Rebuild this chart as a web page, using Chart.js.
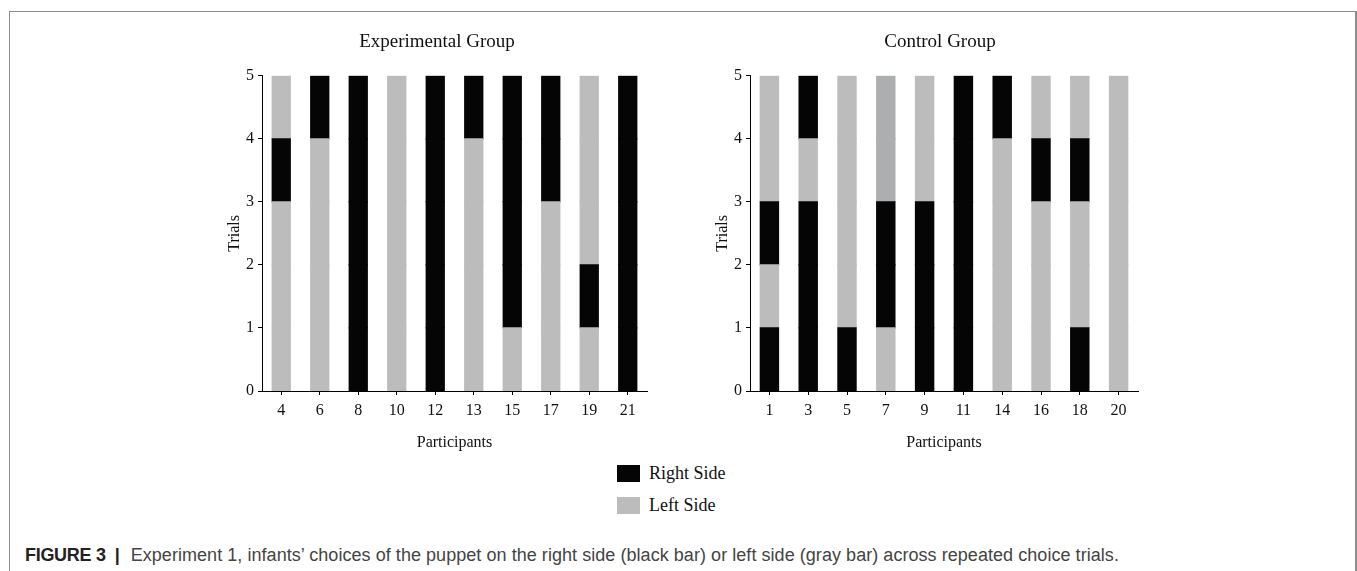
<!DOCTYPE html>
<html>
<head>
<meta charset="utf-8">
<script src="https://cdn.jsdelivr.net/npm/chart.js@4.4.0/dist/chart.umd.min.js"></script>
<style>
  html, body { margin: 0; padding: 0; background: #fff; width: 1357px; height: 571px; overflow: hidden; }
  .frame { position: absolute; left: 9px; top: 11px; width: 1345px; height: 600px; border: 1px solid #8c8c8c; border-right-width: 2px; }
  .panel { position: absolute; top: 11px; height: 450px; }
  #panel-exp { left: 200px; width: 474px; }
  #panel-ctl { left: 688px; width: 504px; }
  .legend { position: absolute; left: 617px; font-family: 'Liberation Serif', serif; font-size: 18px; color: #111; }
  .legend div { position: relative; height: 17px; margin-bottom: 15px; }
  .legend span.box { position: absolute; left: 0; top: 0; width: 23px; height: 17px; }
  .legend span.lbl { position: absolute; left: 32px; top: -2px; white-space: nowrap; line-height: 20px; }
  .caption { position: absolute; left: 25px; top: 544px; font-family: 'Liberation Sans', Arial, sans-serif; font-size: 18px; color: #444; white-space: nowrap; line-height: 22px; }
  .caption b { color: #222; letter-spacing: -0.3px; }
  .caption .sep { color: #222; font-weight: bold; margin: 0 11px 0 9px; }
  .caption .txt { letter-spacing: 0.05px; }
</style>
</head>
<body>
<div class="frame"></div>
<div class="panel" id="panel-exp"><canvas id="canvas-exp"></canvas></div>
<div class="panel" id="panel-ctl"><canvas id="canvas-ctl"></canvas></div>
<div class="legend" style="top:465px">
  <div><span class="box" style="background:#050505"></span><span class="lbl">Right Side</span></div>
  <div><span class="box" style="background:#bbbcbb"></span><span class="lbl">Left Side</span></div>
</div>
<div class="caption"><b>FIGURE 3</b><span class="sep">|</span><span class="txt">Experiment 1, infants’ choices of the puppet on the right side (black bar) or left side (gray bar) across repeated choice trials.</span></div>
<script>
// participants of each group
const expParticipants = ['4', '6', '8', '10', '12', '13', '15', '17', '19', '21'];
const ctlParticipants = ['1', '3', '5', '7', '9', '11', '14', '16', '18', '20'];

// choice per trial, trial 1 at the bottom: R = right side, L = left side, G = left side (darker gray in figure)
const expChoices = ['LLLRL', 'LLLLR', 'RRRRR', 'LLLLL', 'RRRRR', 'LLLLR', 'LRRRR', 'LLLRR', 'LRLLL', 'RRRRR'];
const ctlChoices = ['RLRLL', 'RRRLR', 'RLLLL', 'LRRGG', 'RRRLL', 'RRRRR', 'LLLLR', 'LLLRL', 'RLLRL', 'LLLLL'];

const trialLabels = ['Trial 1', 'Trial 2', 'Trial 3', 'Trial 4', 'Trial 5'];
const yTicks = [0, 1, 2, 3, 4, 5];

const colors = { R: '#050505', L: '#bbbcbb', G: '#adaeb0' };

Chart.defaults.font.family = "'Liberation Serif', 'Times New Roman', serif";
Chart.defaults.color = '#111';

const makeDatasets = (choices) => trialLabels.map((label, t) => ({
  label: label,
  data: choices.map(() => 1),
  backgroundColor: choices.map(c => colors[c[t]]),
  borderWidth: 0,
  inflateAmount: 0.6,
  categoryPercentage: 1,
  barPercentage: 0.47
}));

// spacer on the right keeps the title centred where the figure has it
const makeChart = (id, title, labels, choices, rightSpace) => new Chart(document.getElementById(id), {
  type: 'bar',
  data: { labels: labels, datasets: makeDatasets(choices) },
  options: {
    responsive: true,
    maintainAspectRatio: false,
    animation: false,
    layout: { padding: 0 },
    plugins: {
      legend: { display: false },
      tooltip: { enabled: false },
      title: {
        display: true,
        text: title,
        color: '#111',
        font: { size: 19, weight: 'normal' },
        padding: { top: 20, bottom: 22 }
      }
    },
    scales: {
      x: {
        stacked: true,
        grid: { display: true, drawOnChartArea: false, offset: false, tickLength: 4, color: '#000' },
        border: { display: true, color: '#000', width: 1 },
        ticks: { padding: 6, font: { size: 16 }, color: '#111', maxRotation: 0 },
        title: { display: true, text: 'Participants', font: { size: 16 }, color: '#111', padding: { top: 0, bottom: 9 } },
        afterFit: (scale) => { scale.height = 70; }
      },
      y: {
        stacked: true,
        min: 0,
        max: 5,
        afterBuildTicks: (scale) => { scale.ticks = yTicks.map(v => ({ value: v })); },
        grid: { display: true, drawOnChartArea: false, tickLength: 4, color: '#000' },
        border: { display: true, color: '#000', width: 1 },
        ticks: { padding: 4, font: { size: 16 }, color: '#111' },
        title: { display: true, text: 'Trials', font: { size: 16 }, color: '#111', padding: { top: 25, bottom: 0 } },
        afterFit: (scale) => { scale.width = 62; }
      },
      spacer: {
        type: 'linear',
        position: 'right',
        display: true,
        grid: { display: false },
        border: { display: false },
        ticks: { display: false },
        afterFit: (scale) => { scale.width = rightSpace; }
      }
    }
  }
});

makeChart('canvas-exp', 'Experimental Group', expParticipants, expChoices, 27);
makeChart('canvas-ctl', 'Control Group', ctlParticipants, ctlChoices, 54);
</script>
</body>
</html>
